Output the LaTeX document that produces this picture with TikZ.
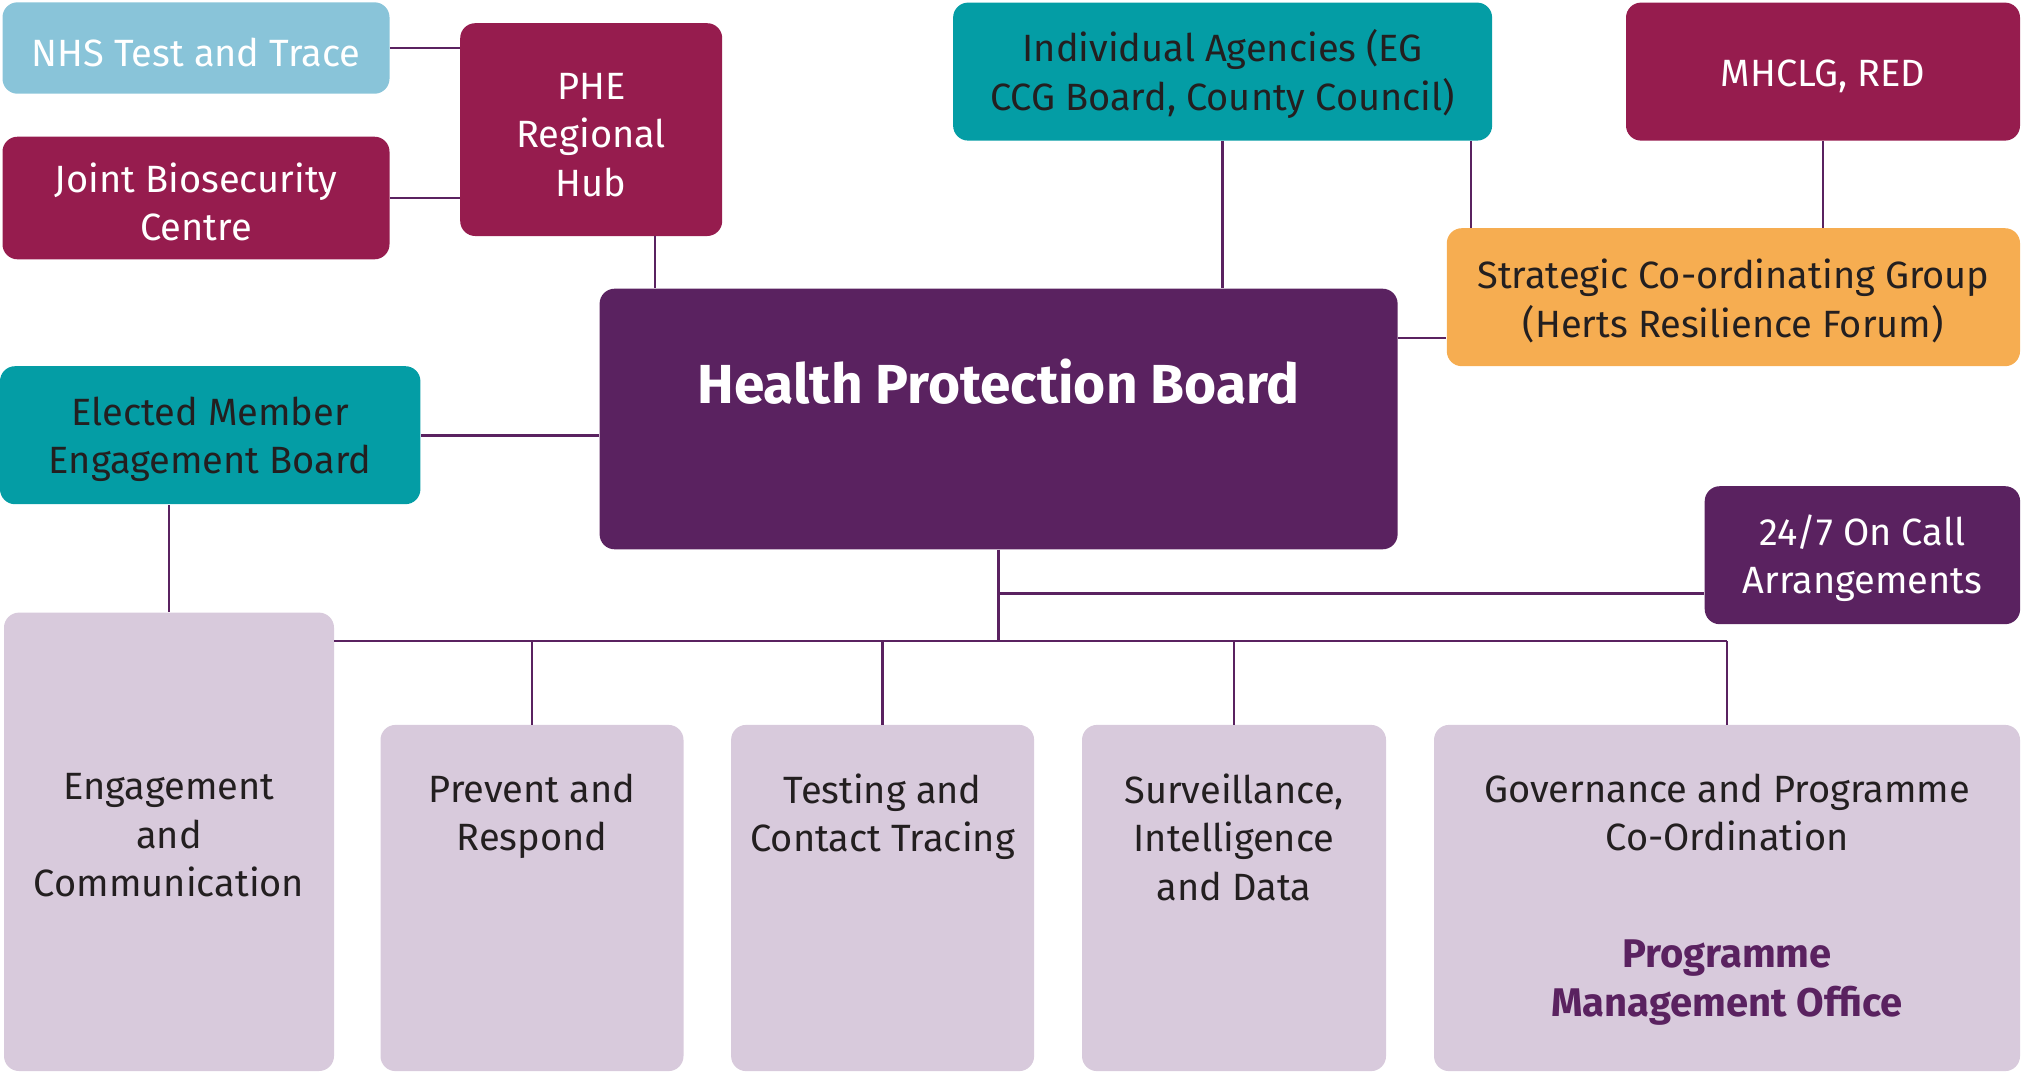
\documentclass[tikz,border=0pt]{standalone}
\usepackage{fontspec}
\setmainfont{Fira Sans}
\usepackage{tikz}
\usetikzlibrary{calc}
\definecolor{nhsblue}{HTML}{89C4D9}
\definecolor{maroon}{HTML}{961C4E}
\definecolor{agencyteal}{HTML}{049DA5}
\definecolor{forumorange}{HTML}{F6AD51}
\definecolor{hpbpurple}{HTML}{5A2260}
\definecolor{lilac}{HTML}{D8CADC}
\definecolor{ink}{HTML}{231F20}
\newcommand{\topstrut}{\rule{0pt}{18.5pt}}
\tikzstyle{orgbox} = [rectangle, rounded corners=7.5pt, inner sep=4pt, align=center,
    font=\fontsize{19}{24.2}\selectfont]
\tikzstyle{teambox} = [rectangle, rounded corners=7.5pt, fill=lilac]
\tikzstyle{teamtext} = [align=center, inner sep=0pt, anchor=north, text=ink,
    font=\fontsize{19}{24.2}\selectfont]
\tikzstyle{link} = [draw=hpbpurple, line width=1.3pt]

\begin{document}
\begin{tikzpicture}[x=1pt,y=-1pt]
    \useasboundingbox (0,0) rectangle (1011,535.5);
    % top row
    \node [orgbox, fill=nhsblue, text=white, minimum width=193.5pt, minimum height=45.7pt] (nhs) at (98,24) {\topstrut NHS Test and Trace};
    \node [orgbox, fill=maroon, text=white, minimum width=193.5pt, minimum height=61.3pt] (jbc) at (98,99) {\topstrut Joint Biosecurity\\Centre};
    \node [orgbox, fill=maroon, text=white, minimum width=131pt, minimum height=106.4pt] (phe) at (295.6,64.8) {\topstrut PHE\\Regional\\Hub};
    \node [orgbox, fill=agencyteal, text=ink, minimum width=269.5pt, minimum height=69pt] (agencies) at (611.3,35.8) {\topstrut Individual Agencies (EG\\CCG Board, County Council)};
    \node [orgbox, fill=maroon, text=white, minimum width=197pt, minimum height=69pt] (mhclg) at (911.5,35.8) {\topstrut MHCLG, RED};
    \node [orgbox, fill=forumorange, text=ink, minimum width=286.6pt, minimum height=69pt] (scg) at (866.7,148.6) {\topstrut Strategic Co-ordinating Group\\(Herts Resilience Forum)};

    % board
    \node [orgbox, fill=hpbpurple, minimum width=399pt, minimum height=130.3pt] (hpb) at (499.3,209.5) {};
    \node [text=white, font=\bfseries\fontsize{27.5}{32}\selectfont] (hpbtitle) at ([yshift=18.5pt]hpb.center) {Health Protection Board};
    \node [orgbox, fill=agencyteal, text=ink, minimum width=210.2pt, minimum height=69pt] (emeb) at (105.1,217.6) {\topstrut Elected Member\\Engagement Board};
    \node [orgbox, fill=hpbpurple, text=white, minimum width=157.7pt, minimum height=69pt] (oncall) at (931.2,277.6) {\topstrut 24/7 On Call\\Arrangements};

    % workstreams
    \node [teambox, minimum width=165pt, minimum height=229.2pt] (eng) at (84.5,420.9) {};
    \node [teambox, minimum width=151.5pt, minimum height=173.1pt] (prev) at (266,449) {};
    \node [teambox, minimum width=151.5pt, minimum height=173.1pt] (test) at (441.3,449) {};
    \node [teambox, minimum width=152pt, minimum height=173.1pt] (surv) at (617,449) {};
    \node [teambox, minimum width=293pt, minimum height=173.1pt] (gov) at (863.5,449) {};

    \coordinate (textline) at (0,386.6);
    \node [teamtext] (engtxt) at (eng |- textline) {Engagement\\and\\Communication};
    \node [teamtext] (prevtxt) at (prev |- textline) {Prevent and\\Respond};
    \node [teamtext] (testtxt) at (test |- textline) {Testing and\\Contact Tracing};
    \node [teamtext] (survtxt) at (surv |- textline) {Surveillance,\\Intelligence\\and Data};
    \node [teamtext] (govtxt) at (gov |- textline) {Governance and Programme\\Co-Ordination};
    \node [teamtext, text=hpbpurple, font=\bfseries\fontsize{20}{24.2}\selectfont] (pmo) at ($(gov |- textline)+(0,83.3)$) {Programme\\Management Office};

    % connectors
    \draw [link] (nhs.east) -- (nhs.east -| phe.west);
    \draw [link] (jbc.east) -- (jbc.east -| phe.west);
    \draw [link] ([xshift=31.9pt]phe.south) -- ([xshift=31.9pt]phe.south |- hpb.north);
    \draw [link] (agencies.south) -- (agencies.south |- hpb.north);
    \draw [link] ([xshift=12.3pt]scg.north west) -- ([xshift=12.3pt]scg.north west |- agencies.south);
    \draw [link] (mhclg.south) -- (mhclg.south |- scg.north);
    \draw [link] ([yshift=40.5pt]hpb.east) -- ([yshift=40.5pt]hpb.east -| scg.west);
    \draw [link] (emeb.east) -- (emeb.east -| hpb.west);
    \draw [link] (eng.north) -- (eng.north |- emeb.south);

    \coordinate (bus) at (0,320.4);
    \draw [link] (hpb.south) -- (hpb.south |- bus);
    \draw [link] ([yshift=-19pt]oncall.west) -- ([yshift=-19pt]oncall.west -| hpb.south);
    \draw [link] (eng.east |- bus) -- (gov.north |- bus);
    \foreach \team in {prev,test,surv,gov}
        \draw [link] (\team.north) -- (\team.north |- bus);
\end{tikzpicture}
\end{document}
